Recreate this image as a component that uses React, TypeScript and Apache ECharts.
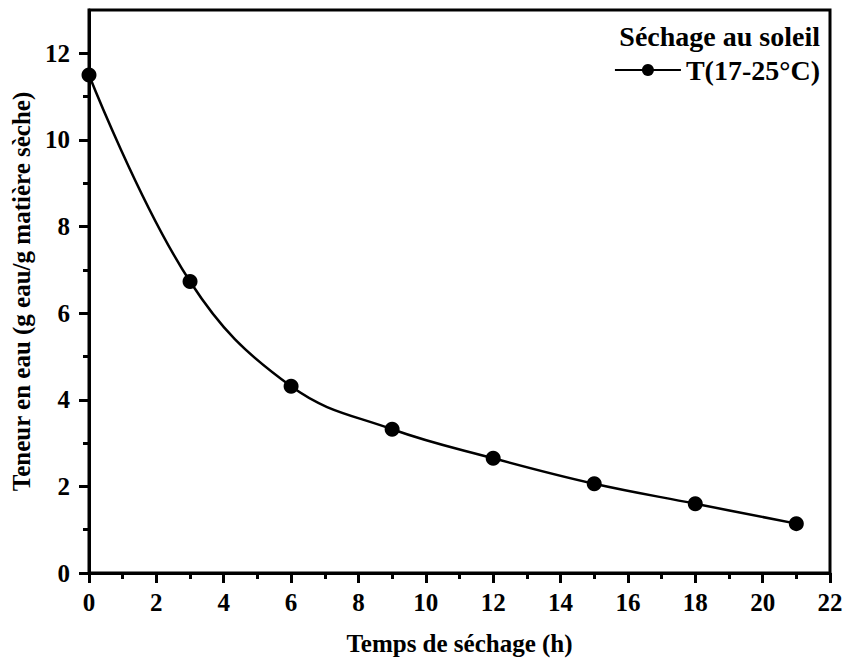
import React, { useEffect, useRef } from "react";
import * as echarts from "echarts";

const hours = [0, 3, 6, 9, 12, 15, 18, 21];
const moisture = [11.5, 6.73, 4.31, 3.32, 2.65, 2.06, 1.6, 1.14];
const seriesName = "T(17-25°C)";
const legendTitle = "Séchage au soleil";
const xTitle = "Temps de séchage (h)";
const yTitle = "Teneur en eau (g eau/g matière sèche)";
const yMajor = [0, 2, 4, 6, 8, 10, 12];
const yMinor = [1, 3, 5, 7, 9, 11];

const FONT = "'Liberation Serif', 'Times New Roman', serif";

export default function App() {
  const ref = useRef<HTMLDivElement>(null);
  useEffect(() => {
    if (!ref.current) return;
    const chart = echarts.init(ref.current, undefined, { renderer: "svg" });
    const lbl = { fontFamily: FONT, fontWeight: "bold" as const, fontSize: 25, color: "#000" };
    const big = { ...lbl, fontSize: 28 };
    chart.setOption({
      animation: false,
      backgroundColor: "#fff",
      title: {
        text: legendTitle,
        right: 26,
        top: 22,
        textStyle: big,
        padding: 0,
      },
      legend: {
        data: [seriesName],
        right: 26,
        top: 56,
        padding: 0,
        itemWidth: 66,
        itemHeight: 15,
        itemGap: 6,
        textStyle: big,
      },
      grid: {
        left: 89,
        right: 16,
        top: 10,
        bottom: 95,
        show: true,
        borderColor: "#000",
        borderWidth: 3,
        containLabel: false,
      },
      xAxis: {
        type: "value",
        min: 0,
        max: 22,
        interval: 2,
        name: xTitle,
        nameLocation: "middle",
        nameGap: 58,
        nameTextStyle: { ...lbl, fontSize: 25 },
        axisLine: { show: true, onZero: false, lineStyle: { color: "#000", width: 3 } },
        axisTick: { show: true, inside: false, length: 10, lineStyle: { color: "#000", width: 3 } },
        minorTick: { show: true, splitNumber: 2, length: 6, lineStyle: { color: "#000", width: 3 } },
        axisLabel: { ...lbl, margin: 17 },
        splitLine: { show: false },
        minorSplitLine: { show: false },
      },
      yAxis: [
        {
          type: "value",
          min: 0,
          max: 13,
          name: yTitle,
          nameLocation: "middle",
          nameGap: 54,
          nameTextStyle: { ...lbl, fontSize: 25 },
          axisLine: { show: true, onZero: false, lineStyle: { color: "#000", width: 3 } },
          axisTick: { show: true, length: 10, customValues: yMajor, lineStyle: { color: "#000", width: 3 } },
          axisLabel: { ...lbl, margin: 19, customValues: yMajor },
          splitLine: { show: false },
        },
        {
          type: "value",
          min: 0,
          max: 13,
          position: "left",
          offset: 0,
          axisLine: { show: false },
          axisTick: { show: true, length: 6, customValues: yMinor, lineStyle: { color: "#000", width: 3 } },
          axisLabel: { show: false, customValues: yMinor },
          splitLine: { show: false },
        },
      ],
      series: [
        {
          name: seriesName,
          type: "line",
          data: hours.map((h, i) => [h, moisture[i]]),
          smooth: 0.4,
          symbol: "circle",
          symbolSize: 15,
          showAllSymbol: true,
          clip: false,
          itemStyle: { color: "#000" },
          lineStyle: { color: "#000", width: 2.5 },
        },
      ],
    });
    return () => chart.dispose();
  }, []);
  return <div ref={ref} style={{ width: 846, height: 668, position: "absolute", left: 0, top: 0 }} />;
}
